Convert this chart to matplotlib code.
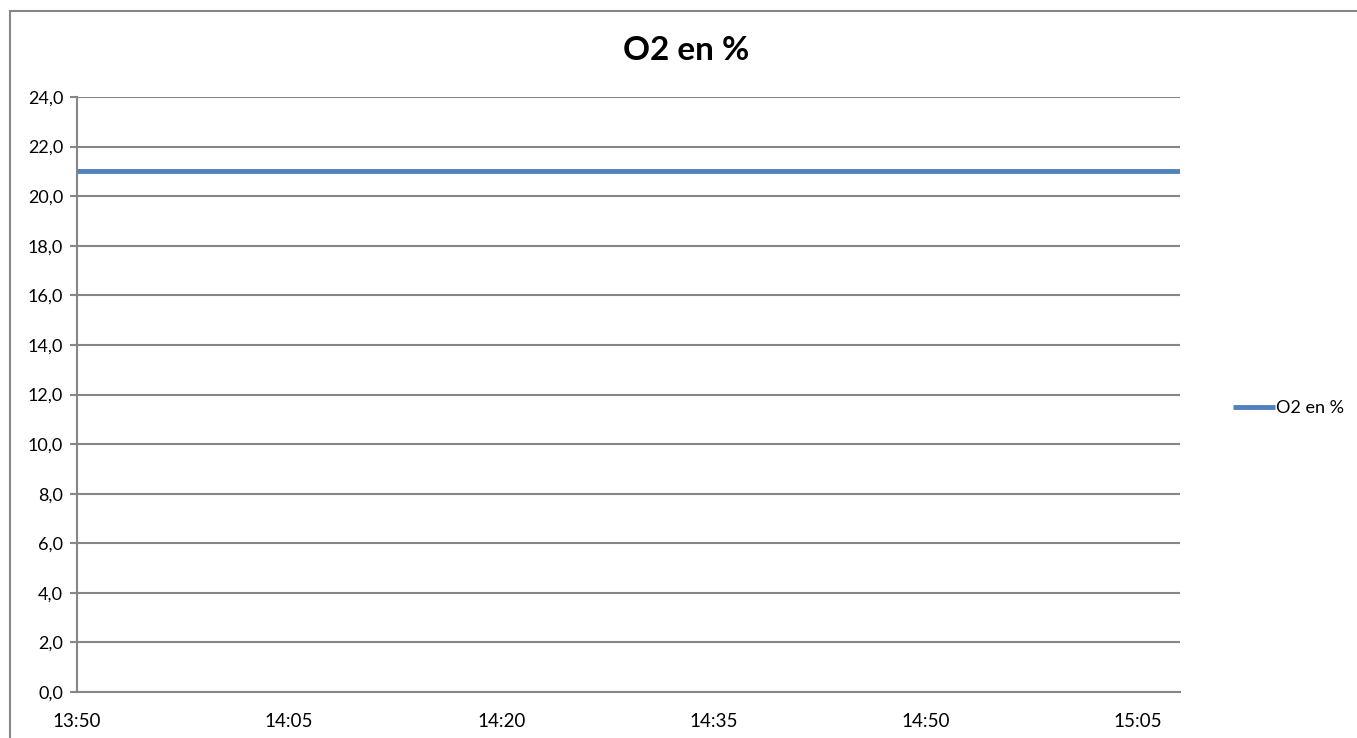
import numpy as np
import pandas as pd
import matplotlib
matplotlib.use("Agg")
import matplotlib.pyplot as plt
from matplotlib.ticker import FuncFormatter, FixedLocator
from matplotlib.patches import Rectangle

# relevés toutes les minutes, 13:50 -> 15:08
heures = pd.date_range("13:50", "15:08", freq="1min").strftime("%H:%M").tolist()
o2_pct = [21.0, 21.0, 21.0, 21.0, 21.0, 21.0, 21.0, 21.0, 21.0, 21.0,
          21.0, 21.0, 21.0, 21.0, 21.0, 21.0, 21.0, 21.0, 21.0, 21.0,
          21.0, 21.0, 21.0, 21.0, 21.0, 21.0, 21.0, 21.0, 21.0, 21.0,
          21.0, 21.0, 21.0, 21.0, 21.0, 21.0, 21.0, 21.0, 21.0, 21.0,
          21.0, 21.0, 21.0, 21.0, 21.0, 21.0, 21.0, 21.0, 21.0, 21.0,
          21.0, 21.0, 21.0, 21.0, 21.0, 21.0, 21.0, 21.0, 21.0, 21.0,
          21.0, 21.0, 21.0, 21.0, 21.0, 21.0, 21.0, 21.0, 21.0, 21.0,
          21.0, 21.0, 21.0, 21.0, 21.0, 21.0, 21.0, 21.0, 21.0]
titre = "O2 en %"
y_ticks = np.arange(0, 25, 2)

plt.rcParams['font.family'] = ['Lato', 'DejaVu Sans']
gris = "#868686"

W, H = 1357, 738
fig = plt.figure(figsize=(W / 100, H / 100), dpi=100)

# cadre du graphique
fig.patches.append(Rectangle((10 / W, -0.1), 1.2, 1 - 11 / H + 0.1, transform=fig.transFigure,
                             fill=False, edgecolor=gris, linewidth=1.5))

ax = fig.add_axes([77 / W, 1 - 692 / H, (1180 - 77) / W, (692 - 97) / H])
x = np.arange(len(heures))
ax.plot(x, o2_pct, color="#4F81BD", linewidth=3.5, label=titre, solid_capstyle="butt")

ax.set_xlim(0, len(heures) - 1)
ax.set_ylim(0, 24)
ax.yaxis.set_major_locator(FixedLocator(y_ticks))
ax.yaxis.set_major_formatter(FuncFormatter(lambda v, p: f"{v:.1f}".replace(".", ",")))
pos = list(range(0, len(heures), 15))
ax.set_xticks(pos)
ax.set_xticklabels([heures[i] for i in pos])

ax.grid(axis="y", color=gris, linewidth=1.5)
ax.set_axisbelow(True)
for s in ["top", "right"]:
    ax.spines[s].set_visible(False)
for s in ["left", "bottom"]:
    ax.spines[s].set_color(gris)
    ax.spines[s].set_linewidth(1.5)
ax.tick_params(axis="y", length=5, width=1.5, color=gris, labelsize=13, pad=5)
ax.tick_params(axis="x", length=0, labelsize=13.5, pad=15)

fig.text(686 / W, 1 - 50 / H, titre, ha="center", va="center", fontsize=24, fontweight="bold")

leg = ax.legend(loc="center left", bbox_to_anchor=(1224 / W, 1 - 408 / H), bbox_transform=fig.transFigure,
                frameon=False, fontsize=13, handlelength=2.3, handletextpad=0.1, borderpad=0)

fig.savefig("out.png", dpi=100)
